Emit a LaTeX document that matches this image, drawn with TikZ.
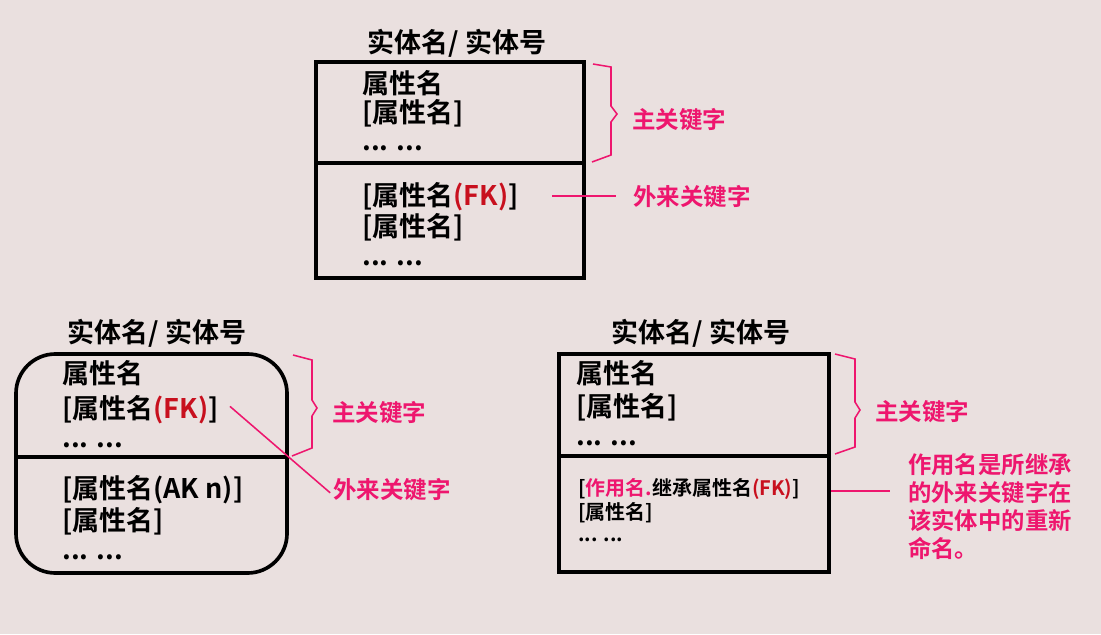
\documentclass[tikz,border=0pt]{standalone}
\usepackage{fontspec}
\setmainfont{Noto Sans CJK SC}[BoldFont={Noto Sans CJK SC Bold}]
\definecolor{bgpaper}{RGB}{234,224,223}
\definecolor{keypink}{RGB}{238,22,110}
\definecolor{fkred}{RGB}{200,16,30}

\begin{document}
\begin{tikzpicture}[x=0.025cm, y=-0.025cm,
    entbox/.style={line width=2.6pt},
    enttitle/.style={inner sep=0, font=\bfseries\fontsize{19.2pt}{23pt}\selectfont},
    attr/.style={inner sep=0, anchor=base west, font=\bfseries\fontsize{19.2pt}{23pt}\selectfont},
    smallattr/.style={inner sep=0, anchor=base west, font=\bfseries\fontsize{14.2pt}{17pt}\selectfont},
    keylbl/.style={inner sep=0, anchor=west, text=keypink, font=\bfseries\fontsize{16.7pt}{20pt}\selectfont},
    keyline/.style={draw=keypink, line width=1.1pt},
    keybrace/.style={draw=keypink, line width=1.1pt, line join=miter}]
    \fill[bgpaper] (0,0) rectangle (1101,634);
    \useasboundingbox (0,0) rectangle (1101,634);

    % top entity
    \node[enttitle] (t1) at (457,43) {实体名/ 实体号};
    \draw[entbox] (316,62) rectangle (584,278);
    \draw[entbox] (316,163) -- (584,163);
    \node[attr] (a1) at (362,93) {属性名};
    \node[attr] (a2) at (362,122) {[属性名]};
    \node[attr] (a3) at (362,150) {... ...};
    \node[attr] (fk1) at (362,205) {[属性名\textcolor{fkred}{(FK)}]};
    \node[attr] (a5) at (362,236) {[属性名]};
    \node[attr] (a6) at (362,265) {... ...};
    \draw[keybrace] (593,64) -- (611,67) -- (611,106) -- (617,114) -- (611,122) -- (611,155) -- (592,162);
    \node[keylbl] (pk1) at (632,120) {主关键字};
    \node[keylbl] (fl1) at (633,197) {外来关键字};
    \draw[keyline] ([xshift=24pt]fk1.east) -- ([xshift=-12pt]fk1.east -| fl1.west);

    % left entity
    \node[enttitle] (t2) at (157,333) {实体名/ 实体号};
    \draw[entbox, rounded corners=28pt] (16,354) rectangle (287,573);
    \draw[entbox] (16,457) -- (287,457);
    \node[attr] (b1) at (62,383) {属性名};
    \node[attr] (fk2) at (62,418) {[属性名\textcolor{fkred}{(FK)}]};
    \node[attr] (b3) at (62,447) {... ...};
    \node[attr] (b4) at (62,498) {[属性名(AK n)]};
    \node[attr] (b5) at (62,530) {[属性名]};
    \node[attr] (b6) at (62,559) {... ...};
    \draw[keybrace] (293,355) -- (312,360) -- (312,400) -- (317,408) -- (312,416) -- (312,448) -- (292,456);
    \node[keylbl] (pk2) at (332,413) {主关键字};
    \node[keylbl] (fl2) at (333,490) {外来关键字};
    \draw[keyline] ([xshift=8pt,yshift=2pt]fk2.east) -- ([xshift=-2pt,yshift=-2pt]fl2.west);

    % right entity
    \node[enttitle] (t3) at (701,333) {实体名/ 实体号};
    \draw[entbox] (559,354) rectangle (829,572);
    \draw[entbox] (559,456) -- (829,456);
    \node[attr] (c1) at (576,383) {属性名};
    \node[attr] (c2) at (576,416) {[属性名]};
    \node[attr] (c3) at (576,445) {... ...};
    \node[smallattr] (rn) at (578,495) {[\textcolor{keypink}{作用名.}继承属性名\textcolor{fkred}{(FK)}]};
    \node[smallattr] (c5) at (578,519) {[属性名]};
    \node[smallattr] (c6) at (578,541) {... ...};
    \draw[keybrace] (835,354) -- (855,359) -- (855,402) -- (860,410) -- (855,418) -- (855,447) -- (835,454);
    \node[keylbl] (pk3) at (875,412) {主关键字};
    \node[keylbl, align=left, font=\bfseries\fontsize{16.6pt}{19.9pt}\selectfont] (note) at (908,507)
        {作用名是所继承\\的外来关键字在\\该实体中的重新\\命名。};
    \draw[keyline] ([xshift=22pt,yshift=-2pt]rn.east) -- ([xshift=-13pt,yshift=-2pt]rn.east -| note.west);
\end{tikzpicture}
\end{document}
